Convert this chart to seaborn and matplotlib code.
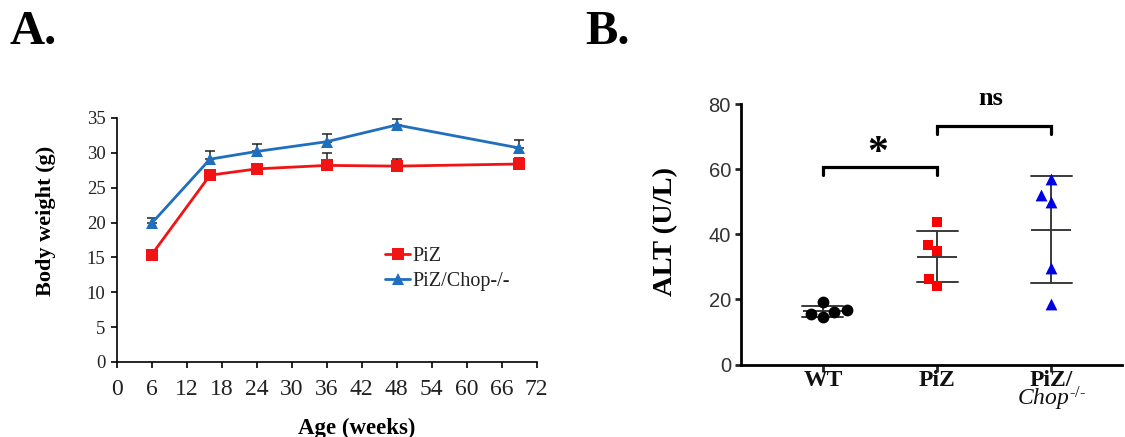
import numpy as np
import pandas as pd
import matplotlib
matplotlib.use("Agg")
import matplotlib.pyplot as plt
import seaborn as sns

# ---------------- data ----------------
# Panel A: body weight over age
ages = [6, 16, 24, 36, 48, 69]
piz_weight = [15.4, 26.8, 27.7, 28.2, 28.1, 28.4]
piz_err = [0.3, 0.4, 0.4, 1.8, 1.0, 0.8]
chop_weight = [19.9, 29.1, 30.2, 31.6, 34.0, 30.7]
chop_err = [0.8, 1.2, 1.0, 1.1, 0.8, 1.2]
series_names = ["PiZ", "PiZ/Chop-/-"]

# Panel B: ALT values per group
alt_groups = ["WT", "PiZ", "PiZ/"]
alt_tick_labels = ["WT", "PiZ", "PiZ/\n" + r"$\mathit{Chop}^{\text{-/-}}$"]
alt_wt = [19.1, 16.0, 14.7, 15.5, 16.7]
alt_piz = [43.7, 36.6, 34.9, 24.2, 26.4]
alt_chop = [56.9, 49.8, 52.0, 29.5, 18.6]
brackets = [(0, 1, 60.7, "*"), (1, 2, 73.3, "ns")]

# ---------------- style ----------------
sns.set_theme(style="ticks")
plt.rcParams["font.family"] = ["Liberation Serif", "DejaVu Serif"]
plt.rcParams["mathtext.fontset"] = "custom"
plt.rcParams["mathtext.rm"] = "Liberation Serif"
plt.rcParams["mathtext.it"] = "Liberation Serif:italic"
plt.rcParams["mathtext.bf"] = "Liberation Serif:bold"
plt.rcParams["text.color"] = "black"
plt.rcParams["axes.labelcolor"] = "black"

RED_A = "#f01414"
BLUE_A = "#1f6fbf"

fig = plt.figure(figsize=(11.25, 4.37), dpi=100)
W, H = 1125, 437
axA = fig.add_axes([116.7 / W, (H - 362) / H, 420 / W, 244 / H])
axB = fig.add_axes([740.7 / W, (H - 364.5) / H, 381.3 / W, 260.5 / H])

# ---------------- Panel A ----------------
dfA = pd.DataFrame({
    "Age": ages + ages,
    "Weight": piz_weight + chop_weight,
    "Err": piz_err + chop_err,
    "Group": [series_names[0]] * len(ages) + [series_names[1]] * len(ages),
})
palA = {series_names[0]: RED_A, series_names[1]: BLUE_A}

for name in series_names:
    sub = dfA[dfA["Group"] == name]
    axA.errorbar(sub["Age"], sub["Weight"],
                 yerr=[np.zeros(len(sub)), sub["Err"].values],
                 fmt="none", ecolor="#222222", elinewidth=1.1,
                 capsize=3.5, capthick=1.1, zorder=1)

sns.lineplot(data=dfA, x="Age", y="Weight", hue="Group", style="Group",
             hue_order=series_names, style_order=series_names,
             palette=palA, markers={series_names[0]: "s", series_names[1]: "^"},
             dashes=False, linewidth=2.0, markersize=8, markeredgewidth=0,
             ax=axA, zorder=3)

axA.set_xlim(0, 72)
axA.set_ylim(0, 35)
axA.set_xticks(np.arange(0, 73, 6))
axA.set_yticks(np.arange(0, 36, 5))
for s in ["top", "right"]:
    axA.spines[s].set_visible(False)
for s in ["left", "bottom"]:
    axA.spines[s].set_linewidth(1.2)
    axA.spines[s].set_color("black")
axA.tick_params(axis="x", direction="out", length=4, width=1.2, labelsize=17, pad=8, colors="black")
axA.tick_params(axis="y", direction="out", length=4, width=1.2, labelsize=13.5, pad=4, colors="black")
for t in axA.get_yticklabels() + axA.get_xticklabels():
    t.set_color("#222222")

axA.set_xlabel("Age (weeks)", fontsize=16.5, fontweight="bold")
axA.xaxis.set_label_coords((357 - 116.7) / 420, (362 - 428) / 244)
axA.xaxis.label.set_va("center")
axA.set_ylabel("Body weight (g)", fontsize=16, fontweight="bold")
axA.yaxis.set_label_coords((46 - 116.7) / 420, (362 - 221) / 244)
axA.yaxis.label.set_va("center")

leg = axA.legend(frameon=False, loc="upper left",
                 bbox_to_anchor=((385 - 116.7) / 420, (362 - 247) / 244),
                 borderaxespad=0, borderpad=0, handlelength=1.25,
                 handletextpad=0.1, labelspacing=0.3, fontsize=14.5,
                 title=None)
for t in leg.get_texts():
    t.set_color("#222222")

# ---------------- Panel B ----------------
dfB = pd.DataFrame({
    "Group": [alt_groups[0]] * len(alt_wt) + [alt_groups[1]] * len(alt_piz) + [alt_groups[2]] * len(alt_chop),
    "ALT": alt_wt + alt_piz + alt_chop,
})

sns.pointplot(data=dfB, x="Group", y="ALT", order=alt_groups,
              errorbar="sd", capsize=0.36, linestyle="none",
              marker="_", markersize=29.5, markeredgewidth=1.4,
              color="#3a3a3a", err_kws={"linewidth": 1.4}, ax=axB, zorder=2)

markersB = {alt_groups[0]: "o", alt_groups[1]: "s", alt_groups[2]: "^"}
colorsB = {alt_groups[0]: "black", alt_groups[1]: "#ff0000", alt_groups[2]: "#0000e6"}
sizesB = {alt_groups[0]: 8.5, alt_groups[1]: 7.5, alt_groups[2]: 8.5}
for g in alt_groups:
    sns.swarmplot(data=dfB[dfB["Group"] == g], x="Group", y="ALT", order=alt_groups,
                  marker=markersB[g], color=colorsB[g], size=sizesB[g],
                  linewidth=0, ax=axB, zorder=4)

axB.set_xlim(-0.72, 2.62)
axB.set_ylim(0, 80)
axB.set_yticks([0, 20, 40, 60, 80])
for s in ["top", "right"]:
    axB.spines[s].set_visible(False)
for s in ["left", "bottom"]:
    axB.spines[s].set_linewidth(2.0)
    axB.spines[s].set_color("black")
axB.tick_params(axis="y", direction="out", length=4, width=2.0, labelsize=14.5, pad=3)
axB.tick_params(axis="x", direction="out", length=5, width=2.0, labelsize=17, pad=-1)
for t in axB.get_yticklabels():
    t.set_fontfamily(["Liberation Sans", "DejaVu Sans"])
    t.set_color("#333333")
axB.set_xticks(range(len(alt_groups)))
axB.set_xticklabels(alt_tick_labels, fontweight="bold", linespacing=0.72,
                    va="top", color="#111111")
axB.set_xlabel("")
axB.set_ylabel("ALT (U/L)", fontsize=20.5, fontweight="bold")
axB.yaxis.set_label_coords((666 - 740.7) / 381.3, (364.5 - 232) / 260.5)
axB.yaxis.label.set_va("center")

# significance brackets
tip = 2.5
for x1, x2, yb, label in brackets:
    axB.plot([x1, x1, x2, x2], [yb - tip, yb, yb, yb - tip], color="black",
             lw=2.3, solid_joinstyle="miter", clip_on=False, zorder=5)
    if label == "*":
        axB.text((x1 + x2) / 2 - 0.02, yb + 1.0, label, ha="center", va="baseline",
                 fontsize=30, fontweight="bold", clip_on=False)
    else:
        axB.text((x1 + x2) / 2 - 0.03, 79.6, label, ha="center", va="baseline",
                 fontsize=19, fontweight="bold", clip_on=False)

# panel letters
fig.text(10 / W, 1 - 44 / H, "A.", fontsize=35, fontweight="bold", ha="left", va="baseline")
fig.text(585 / W, 1 - 44 / H, "B.", fontsize=35, fontweight="bold", ha="left", va="baseline")

fig.savefig("out.png", dpi=100)
